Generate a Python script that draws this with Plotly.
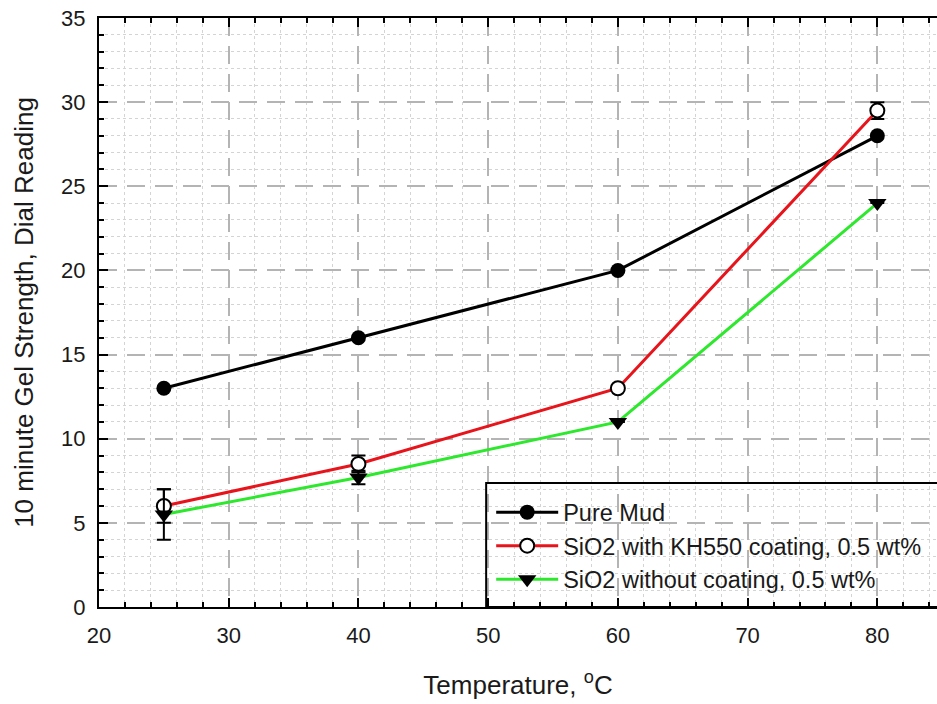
import plotly.graph_objects as go

# Gel strength after 10 minutes vs. temperature
temperature = [25, 40, 60, 80]

pure_mud = [13, 16, 20, 28]

kh550 = [6, 8.5, 13, 29.5]
kh550_err = [1.0, 0.5, 0, 0.5]

uncoated = [5.5, 7.7, 11, 24]
uncoated_err = [1.5, 0.4, 0, 0]

series_names = [
    "Pure Mud",
    "SiO2 with KH550 coating, 0.5 wt%",
    "SiO2 without coating, 0.5 wt%",
]

FONT = "Liberation Sans, Arial, sans-serif"

fig = go.Figure()

fig.add_trace(go.Scatter(
    x=temperature, y=pure_mud, name=series_names[0], mode="lines+markers",
    line=dict(color="black", width=3),
    marker=dict(symbol="circle", size=15, color="black"),
))

fig.add_trace(go.Scatter(
    x=temperature, y=kh550, name=series_names[1], mode="lines+markers",
    line=dict(color="#e8141b", width=3),
    marker=dict(symbol="circle", size=14, color="white",
                line=dict(color="black", width=2)),
    error_y=dict(type="data", array=kh550_err, visible=True,
                 color="black", thickness=2, width=7),
))

fig.add_trace(go.Scatter(
    x=temperature, y=uncoated, name=series_names[2], mode="lines+markers",
    line=dict(color="#2ee82e", width=3),
    marker=dict(symbol="triangle-down", size=16, color="black"),
    error_y=dict(type="data", array=uncoated_err, visible=True,
                 color="black", thickness=2, width=7),
))

major_grid = dict(showgrid=True, gridcolor="#b4b4b4", gridwidth=2,
                  griddash="18px,10px")

fig.update_xaxes(
    range=[20, 84.6], tick0=20, dtick=10,
    showline=True, linecolor="black", linewidth=2, mirror="ticks",
    ticks="inside", ticklen=9, tickwidth=2, tickcolor="black",
    ticklabelstandoff=8,
    tickfont=dict(family=FONT, size=22, color="#1a1a1a"),
    zeroline=False,
    minor=dict(dtick=2, ticks="inside", ticklen=5, tickwidth=1.5,
               tickcolor="black", showgrid=True, gridcolor="#d4d4d4",
               gridwidth=1, griddash="dot"),
    title=dict(text="Temperature, <sup>o</sup>C", standoff=28,
               font=dict(family=FONT, size=26, color="#1a1a1a")),
    **major_grid,
)

fig.update_yaxes(
    range=[0, 35], tick0=0, dtick=5,
    showline=True, linecolor="black", linewidth=2,
    ticks="inside", ticklen=9, tickwidth=2, tickcolor="black",
    ticklabelstandoff=7,
    tickfont=dict(family=FONT, size=22, color="#1a1a1a"),
    zeroline=False,
    minor=dict(dtick=1, ticks="inside", ticklen=5, tickwidth=1.5,
               tickcolor="black", showgrid=True, gridcolor="#d4d4d4",
               gridwidth=1, griddash="dot"),
    title=dict(text="10 minute Gel Strength, Dial Reading", standoff=20,
               font=dict(family=FONT, size=26, color="#1a1a1a")),
    **major_grid,
)

# Legend frame extends past the right edge of the plot
fig.add_shape(type="rect", xref="paper", yref="paper",
              x0=0.462, x1=1.08, y0=0, y1=0.2105,
              line=dict(color="black", width=2), layer="above")

fig.update_layout(
    width=937, height=704,
    margin=dict(l=99, r=0, t=18, b=97),
    paper_bgcolor="white", plot_bgcolor="white",
    font=dict(family=FONT, color="#1a1a1a"),
    showlegend=True,
    legend=dict(x=0.468, y=0.198, xanchor="left", yanchor="top",
                itemwidth=62,
                bgcolor="rgba(0,0,0,0)", borderwidth=0,
                font=dict(family=FONT, size=23.5, color="#1a1a1a")),
)

fig.write_html("out.html")
